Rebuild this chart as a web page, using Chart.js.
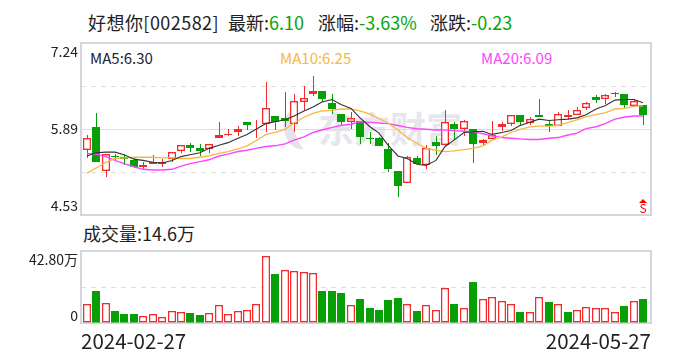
<!DOCTYPE html>
<html><head><meta charset="utf-8">
<script src="https://cdn.jsdelivr.net/npm/chart.js@4"></script>
<style>
html,body{margin:0;padding:0;background:#fff;width:688px;height:360px;overflow:hidden}
#w{position:relative;width:688px;height:360px;font-family:"Noto Sans CJK SC","Noto Sans",sans-serif;color:#222}
.t{position:absolute;white-space:nowrap;line-height:1}
canvas{position:absolute;left:0}
.g{color:#06a506}
</style></head><body><div id="w">
<div class="t" style="left:284px;top:110px;width:28px;height:40px;border-radius:50%;border:0 solid #e4e4ea;border-left-width:10px;box-sizing:border-box;transform:rotate(-20deg)"></div>
<div class="t" style="left:318px;top:109px;font-size:36px;font-weight:700;color:#e6e6ec;letter-spacing:0">东方财富</div>
<div class="t" style="left:88px;top:13px;font-size:18px;letter-spacing:.45px">好想你[002582]</div>
<div class="t" style="left:228px;top:13px;font-size:18px">最新:<span class="g">6.10</span></div>
<div class="t" style="left:318px;top:13px;font-size:18px">涨幅:<span class="g">-3.63%</span></div>
<div class="t" style="left:430px;top:13px;font-size:18px">涨跌:<span class="g">-0.23</span></div>
<div class="t" style="left:90px;top:50px;font-size:15px;color:#223">MA5:6.30</div>
<div class="t" style="left:280px;top:50px;font-size:15px;color:#f7b840">MA10:6.25</div>
<div class="t" style="left:481px;top:50px;font-size:15px;color:#ff44ff">MA20:6.09</div>
<div class="t" style="left:83px;top:224px;font-size:18px">成交量:14.6万</div>
<canvas id="p" width="688" height="225" style="top:0;width:688px;height:225px"></canvas>
<canvas id="v" width="688" height="120" style="top:240px;width:688px;height:120px"></canvas>
</div>
<script>
const categories=["2024-02-27","2024-05-27"];
const priceTicks=[7.24,6.56,5.89,5.21,4.53];
const volTicks=[42.8,21.4,0];
const sellMark=[59,4.68];
const open=[5.55,5.91,5.23,5.46,5.44,5.40,5.28,5.33,5.34,5.42,5.54,5.63,5.58,5.57,5.75,5.79,5.83,5.99,5.96,5.97,6.09,6.06,5.97,6.31,6.43,6.49,6.29,6.12,5.99,6.01,5.74,5.74,5.57,5.22,5.03,5.43,5.31,5.68,5.63,5.96,5.88,5.88,5.66,5.72,5.91,5.97,6.11,5.98,6.11,5.97,5.94,6.08,6.11,6.21,6.39,6.35,6.46,6.44,6.24,6.26];
const close=[5.75,5.37,5.49,5.44,5.42,5.29,5.31,5.36,5.36,5.53,5.64,5.58,5.54,5.65,5.79,5.81,5.89,5.95,5.97,6.21,6.00,6.01,6.32,6.38,6.49,6.36,6.20,6.00,6.06,5.76,5.72,5.62,5.26,4.99,5.44,5.33,5.59,5.62,5.99,5.89,6.01,5.65,5.71,5.79,5.97,6.11,6.00,6.04,6.08,5.94,6.12,6.11,6.18,6.29,6.34,6.42,6.44,6.27,6.33,6.10];
const high=[5.79,6.14,5.49,5.49,5.49,5.43,5.37,5.48,5.41,5.53,5.64,5.66,5.65,5.65,5.99,5.88,5.93,5.99,6.02,6.63,6.09,6.47,6.44,6.56,6.72,6.49,6.44,6.12,6.15,6.01,5.83,5.76,5.66,5.22,5.46,5.46,5.64,5.77,6.18,6.00,6.03,5.88,5.73,6.01,5.99,6.11,6.11,6.08,6.36,6.03,6.15,6.18,6.23,6.31,6.42,6.44,6.47,6.44,6.35,6.26];
const low=[5.43,5.37,5.13,5.40,5.32,5.27,5.25,5.33,5.29,5.37,5.51,5.53,5.46,5.51,5.75,5.77,5.78,5.87,5.74,5.84,5.87,5.92,5.83,6.18,6.41,6.31,6.12,5.94,5.89,5.65,5.65,5.62,5.20,4.81,5.03,5.33,5.26,5.48,5.63,5.71,5.77,5.35,5.62,5.72,5.86,5.94,5.95,5.95,6.08,5.83,5.94,6.05,6.11,6.18,6.30,6.28,6.39,6.22,6.24,5.95];
const ma5=[5.46,5.51,5.52,5.52,5.48,5.41,5.39,5.36,5.35,5.39,5.45,5.48,5.51,5.58,5.63,5.67,5.74,5.80,5.88,5.97,6.00,6.03,6.09,6.17,6.23,6.31,6.35,6.27,6.21,6.06,5.92,5.82,5.63,5.46,5.42,5.33,5.31,5.39,5.61,5.71,5.83,5.84,5.85,5.80,5.83,5.86,5.94,5.99,6.04,6.02,6.03,6.04,6.06,6.11,6.20,6.25,6.34,6.35,6.35,6.30];
const ma10=[5.19,5.27,5.36,5.42,5.43,5.44,5.44,5.44,5.43,5.43,5.42,5.42,5.44,5.46,5.50,5.53,5.57,5.62,5.70,5.80,5.83,5.88,5.98,6.07,6.13,6.17,6.18,6.20,6.20,6.17,6.12,6.05,5.98,5.87,5.75,5.66,5.58,5.55,5.53,5.54,5.56,5.58,5.62,5.71,5.76,5.83,5.88,5.92,5.93,5.93,5.94,5.99,6.03,6.08,6.11,6.14,6.20,6.21,6.24,6.25];
const ma20=[5.50,5.49,5.45,5.39,5.34,5.29,5.25,5.24,5.24,5.25,5.30,5.34,5.37,5.40,5.46,5.49,5.53,5.55,5.58,5.61,5.62,5.65,5.71,5.76,5.83,5.87,5.91,5.94,5.96,6.00,5.99,5.98,5.97,5.94,5.91,5.89,5.88,5.87,5.87,5.86,5.85,5.84,5.81,5.78,5.75,5.74,5.73,5.72,5.72,5.74,5.75,5.79,5.82,5.89,5.92,5.97,6.04,6.07,6.09,6.09];
const volume=[11.3,19.2,11.9,7.3,5.5,5.5,4.2,5.3,3.6,7.1,6.5,6.1,5.0,5.9,10.7,5.3,7.1,7.7,11.3,39.8,29.3,31.5,30.9,30.3,29.7,19.2,19.2,18.0,10.7,14.5,9.1,7.9,13.9,15.0,11.3,7.3,10.7,7.7,20.8,11.5,8.9,24.6,14.3,15.4,13.1,11.3,6.7,6.5,15.4,12.7,11.3,6.7,7.7,9.5,8.9,8.9,6.5,10.3,13.1,14.5];

const RED='#f62a2a',GREEN='#06a006',FRAME='#d5d5dd',GRID='#dedede';
const XMIN=-0.6,XMAX=59.84;
const FONT='"Noto Sans CJK SC","Noto Sans",sans-serif';
const xy=a=>a.map((v,i)=>({x:i,y:v}));
function snap(scale,off){const f=Object.getPrototypeOf(scale).getPixelForValue;scale.getPixelForValue=function(v,i){return Math.round(f.call(this,v,i))+off;};}
function xScale(off){return{type:'linear',offset:false,min:XMIN,max:XMAX,display:false,afterUpdate(s){snap(s,off);}};}
function yScale(min,max,ticks,rounded,display){return{type:'linear',min,max,display:display,position:'left',
  afterBuildTicks(s){s.ticks=ticks.map(v=>({value:v}));},
  afterFit(s){if(display)s.width=81;},
  afterUpdate(s){if(rounded)snap(s,0);},
  ticks:{display:false},border:{display:false,dash:[5,5]},
  grid:{drawTicks:false,color:c=>(c.tick&&ticks.length>3&&c.index%2===1||(ticks.length===3&&c.index===1))?GRID:'transparent'}};}
function frame(solid,labels,fmt,lastOff){return{id:'frame',
  beforeDatasetsDraw(c){const a=c.chartArea,g=c.ctx;g.save();
    if(solid!=null){const y=Math.round(c.scales.y.getPixelForValue(solid))+.5;g.strokeStyle=GRID;g.lineWidth=1;g.beginPath();g.moveTo(a.left,y);g.lineTo(a.right,y);g.stroke();}
    g.strokeStyle=FRAME;g.lineWidth=2;g.strokeRect(a.left,a.top,a.right-a.left,a.bottom-a.top);
    g.fillStyle='#222';g.font='14px '+FONT;g.textAlign='right';
    labels.forEach((v,i)=>{const y=c.scales.y.getPixelForValue(v);
      g.textBaseline=i===0?'top':i===labels.length-1?'bottom':'middle';
      g.fillText(fmt(v),a.left-3,y+(i===0?2:i===labels.length-1?lastOff:0));});
    g.restore();}};}
const lineDs=(d,col,w)=>({type:'line',data:xy(d),borderColor:col,borderWidth:w,pointRadius:0,tension:0,xAxisID:'x',yAxisID:'yl',order:0});
const up=open.map((o,i)=>close[i]>=o);
new Chart(document.getElementById('p'),{type:'bar',
  data:{datasets:[
    lineDs(ma5,'#333333',1.1),lineDs(ma10,'#f7b840',1.3),lineDs(ma20,'#ff44ff',1.4),
    {data:open.map((o,i)=>({x:i,y:[o,close[i]]})),barThickness:8,grouped:false,inflateAmount:0,borderSkipped:false,borderWidth:up.map(u=>u?1.5:0),
     backgroundColor:up.map(u=>u?'#fff':GREEN),borderColor:up.map(u=>u?RED:GREEN),xAxisID:'x',yAxisID:'y',order:1},
    {data:low.map((l,i)=>({x:i,y:[l,high[i]]})),barThickness:1,grouped:false,inflateAmount:0,borderWidth:0,
     backgroundColor:up.map(u=>u?RED:GREEN),xAxisID:'xw',yAxisID:'y',order:2}
  ]},
  options:{animation:false,responsive:false,layout:{padding:{top:43,right:37,bottom:10,left:0}},
    plugins:{legend:{display:false},tooltip:{enabled:false}},
    scales:{x:xScale(0),xw:xScale(.5),y:yScale(4.53,7.24,priceTicks,true,true),yl:yScale(4.53,7.24,[],false,false)}},
  plugins:[frame(5.89,[7.24,5.89,4.53],v=>v.toFixed(2),-2),{id:'mark',afterDatasetsDraw(c){const g=c.ctx,x=c.scales.x.getPixelForValue(sellMark[0]),y=c.scales.y.getPixelForValue(sellMark[1]);
    g.save();g.fillStyle='#f00';g.beginPath();g.moveTo(x,y-6);g.lineTo(x+4,y-2);g.lineTo(x-4,y-2);g.closePath();g.fill();
    g.font='12px '+FONT;g.textAlign='center';g.textBaseline='top';g.fillText('S',x,y-3);g.restore();}}]});
const volUp=close.map((c,i)=>i===0||c>=close[i-1]);
new Chart(document.getElementById('v'),{type:'bar',
  data:{datasets:[{data:xy(volume),barThickness:8,inflateAmount:0,borderSkipped:false,borderWidth:volUp.map(u=>u?1.5:0),
    backgroundColor:volUp.map(u=>u?'#fff':GREEN),borderColor:volUp.map(u=>u?RED:GREEN),xAxisID:'x',yAxisID:'y'}]},
  options:{animation:false,responsive:false,layout:{padding:{top:11,right:37,bottom:0,left:0}},
    plugins:{legend:{display:false},tooltip:{enabled:false}},
    scales:{x:{type:'linear',offset:false,min:XMIN,max:XMAX,position:'bottom',
        afterUpdate(s){snap(s,0);},
        afterBuildTicks(s){s.ticks=[{value:XMIN},{value:XMAX}];},
        afterFit(s){s.height=37;},
        grid:{display:false,drawTicks:false},border:{display:false},
        ticks:{align:'inner',maxRotation:0,autoSkip:false,padding:6,color:'#222',font:{size:20.5,family:FONT},
          callback(v,i){return categories[i];}}},
      y:yScale(0,42.8,volTicks,true,true)}},
  plugins:[frame(null,[42.8,0],v=>v===0?'0':v.toFixed(2)+'万',0)]});
</script></body></html>
